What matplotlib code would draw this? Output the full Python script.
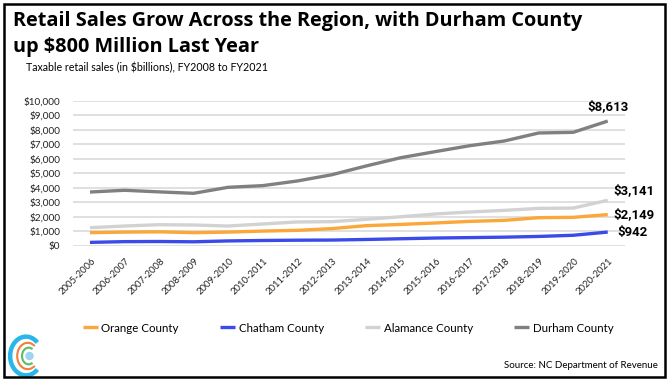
import matplotlib.pyplot as plt
import matplotlib.transforms as mtransforms
from matplotlib.patches import Rectangle, Arc, Circle

# data (taxable retail sales, $ millions)
years = ["2005-2006", "2006-2007", "2007-2008", "2008-2009", "2009-2010", "2010-2011",
         "2011-2012", "2012-2013", "2013-2014", "2014-2015", "2015-2016", "2016-2017",
         "2017-2018", "2018-2019", "2019-2020", "2020-2021"]
orange = [900, 940, 960, 900, 940, 1010, 1060, 1180, 1385, 1470, 1570, 1680, 1750, 1935, 1960, 2149]
chatham = [230, 280, 290, 270, 330, 360, 380, 390, 430, 480, 530, 560, 590, 640, 720, 942]
alamance = [1245, 1360, 1450, 1430, 1360, 1500, 1640, 1660, 1820, 2000, 2190, 2330, 2440, 2580, 2600, 3141]
durham = [3710, 3830, 3720, 3620, 4035, 4150, 4470, 4900, 5510, 6080, 6500, 6910, 7235, 7790, 7835, 8613]

names = ["Orange County", "Chatham County", "Alamance County", "Durham County"]
colors = ["#FBA73A", "#3A4BEA", "#D2D2D2", "#808080"]
series = [orange, chatham, alamance, durham]

plt.rcParams['font.family'] = ['Lato', 'DejaVu Sans']

fig = plt.figure(figsize=(6.7, 3.81), dpi=100)
ax = fig.add_axes([72.7 / 670, 1 - 245.7 / 381, (625 - 72.7) / 670, (245.7 - 101) / 381])

x = list(range(len(years)))
# draw back-to-front like the original
for i in [3, 2, 0, 1]:
    ax.plot(x, series[i], color=colors[i], lw=2.4, solid_capstyle='butt', label=names[i], zorder=3)

ax.set_ylim(0, 10000)
ax.set_xlim(-0.5, 15.5)
ax.set_yticks(range(0, 10001, 1000))
ax.set_yticklabels(["${:,}".format(v) for v in range(0, 10001, 1000)], fontsize=7.2, color='#222222')
ax.set_xticks(x)
ax.set_xticklabels(years, rotation=45, ha='right', va='center', rotation_mode='anchor',
                   fontsize=6.8, color='#222222')
ax.tick_params(axis='y', length=0, pad=9)
ax.tick_params(axis='x', length=0, pad=10)
shift = mtransforms.ScaledTranslation(4 / 100, 0, fig.dpi_scale_trans)
for lab in ax.get_xticklabels():
    lab.set_transform(lab.get_transform() + shift)
ax.grid(axis='y', color='#DADADA', lw=1.2)
ax.set_axisbelow(True)
for s in ax.spines.values():
    s.set_visible(False)

# end labels
lab_kw = dict(textcoords='offset points', fontsize=9.5, fontweight='bold', family='Roboto')
ax.annotate("${:,}".format(durham[-1]), (15, durham[-1]), xytext=(0, 6), ha='center', va='bottom', **lab_kw)
ax.annotate("${:,}".format(alamance[-1]), (15, alamance[-1]), xytext=(4, 2), ha='left', va='bottom', **lab_kw)
ax.annotate("${:,}".format(orange[-1]), (15, orange[-1]), xytext=(4, 0), ha='left', va='center', **lab_kw)
ax.annotate("${:,}".format(chatham[-1]), (15, chatham[-1]), xytext=(7, 0), ha='left', va='center', **lab_kw)

handles, labels = ax.get_legend_handles_labels()
order = [labels.index(n) for n in names]
fig.legend([handles[k] for k in order], names, loc='center', bbox_to_anchor=(348 / 670, 1 - 328 / 381),
           ncol=4, frameon=False, fontsize=8.3, handlelength=1.3, handletextpad=0.3, columnspacing=3.6)

title_kw = dict(fontsize=14.3, fontweight='bold', va='center', ha='left', family='Open Sans')
fig.text(13 / 670, 1 - 21 / 381, "Retail Sales Grow Across the Region, with Durham County", **title_kw)
fig.text(13 / 670, 1 - 47 / 381, "up $800 Million Last Year", **title_kw)
fig.text(26 / 670, 1 - 68 / 381, "Taxable retail sales (in $billions), FY2008 to FY2021",
         fontsize=7.7, va='center', ha='left')
fig.text(658 / 670, 1 - 366 / 381, "Source: NC Department of Revenue",
         fontsize=7, va='center', ha='right')

# border
fig.patches.append(Rectangle((4 / 670, 4 / 381), 661 / 670, 373 / 381, transform=fig.transFigure,
                             fill=False, lw=1.8, ec='black'))

# simple logo
lax = fig.add_axes([8 / 670, 1 - 378 / 381, 36 / 670, 44 / 381])
lax.set_xlim(-1, 1)
lax.set_ylim(-1.25, 1.25)
lax.set_aspect('equal')
lax.axis('off')
lax.add_patch(Arc((0, 0), 1.8, 2.2, theta1=50, theta2=310, color='#29B6E8', lw=3.2))
lax.add_patch(Arc((0.1, 0), 1.2, 1.5, theta1=55, theta2=305, color='#F07E3C', lw=1.5))
lax.add_patch(Arc((0.15, 0), 0.75, 0.95, theta1=60, theta2=300, color='#5DBB63', lw=1.5))
lax.add_patch(Circle((0.2, 0), 0.2, color='#9FD4F0'))

fig.savefig("out.png", dpi=100)
